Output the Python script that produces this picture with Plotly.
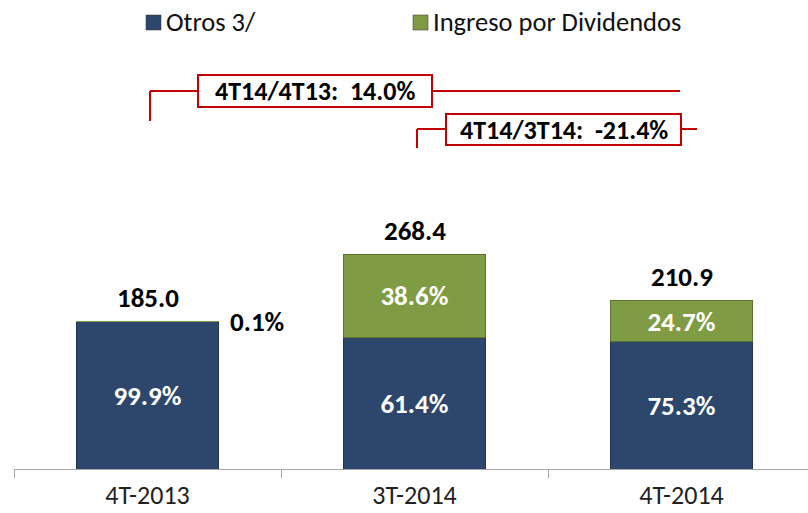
import plotly.graph_objects as go

# Quarterly income breakdown (millions)
categories = ["4T-2013", "3T-2014", "4T-2014"]
otros = [184.8, 164.8, 158.8]
dividendos = [0.2, 103.6, 52.1]
series_names = ["Otros 3/", "Ingreso por Dividendos"]

totals = [round(a + b, 1) for a, b in zip(otros, dividendos)]
share_otros = [a / t * 100 for a, t in zip(otros, totals)]
share_div = [b / t * 100 for b, t in zip(dividendos, totals)]

growth_yoy = (totals[2] / totals[0] - 1) * 100
growth_qoq = (totals[2] / totals[1] - 1) * 100

NAVY = "#2C476B"
GREEN = "#7F9B43"
RED = "#C00000"
FONT = "Carlito, Liberation Sans Narrow, DejaVu Sans Condensed, sans-serif"
BIG = 27

W, H = 808, 513
ML, MR, MT, MB = 14, 0, 0, 44
PW = W - ML - MR
PH = H - MT - MB
CAT_PX = 267.0
Y_MAX = PH / 0.8


def px_x(x):
    return (x - ML) / PW


def px_y(y):
    return (H - MB - y) / PH


fig = go.Figure()

fig.add_trace(go.Bar(
    x=categories, y=otros, name=series_names[0],
    marker=dict(color=NAVY, line=dict(color="#1F3550", width=1)),
    text=[f"{s:.1f}%" for s in share_otros],
    textposition="inside", insidetextanchor="middle", textangle=0,
    constraintext="none",
    insidetextfont=dict(family=FONT, size=BIG, color="white", weight="bold"),
    width=0.532,
))

fig.add_trace(go.Bar(
    x=categories, y=dividendos, name=series_names[1],
    marker=dict(color=GREEN,
                line=dict(color="#5E7530", width=[0 if s < 1 else 1 for s in share_div])),
    text=["" if s < 1 else f"{s:.1f}%" for s in share_div],
    textposition="inside", insidetextanchor="middle", textangle=0,
    constraintext="none",
    insidetextfont=dict(family=FONT, size=BIG, color="white", weight="bold"),
    width=0.532,
))

annotations = []
# Totals above each bar
for c, t in zip(categories, totals):
    annotations.append(dict(
        x=c, y=t, xref="x", yref="y", text=f"<b>{t:.1f}</b>",
        showarrow=False, yanchor="middle", yshift=24,
        font=dict(family=FONT, size=BIG, color="black"),
    ))

# Small dividend share shown beside the first bar
for i, s in enumerate(share_div):
    if s < 1:
        annotations.append(dict(
            x=categories[i], y=totals[i], xref="x", yref="y",
            text=f"<b>{s:.1f}%</b>", showarrow=False,
            xshift=110, yanchor="middle",
            font=dict(family=FONT, size=BIG, color="black"),
        ))

shapes = []

# Legend (drawn manually)
legend_items = [(146, NAVY, series_names[0]), (413, GREEN, series_names[1])]
for x0, col, name in legend_items:
    shapes.append(dict(
        type="rect", xref="paper", yref="paper",
        x0=px_x(x0), x1=px_x(x0 + 15), y0=px_y(30), y1=px_y(15),
        fillcolor=col, line=dict(color="#333333", width=0.5),
    ))
    annotations.append(dict(
        x=px_x(x0 + 18), y=px_y(22), xref="paper", yref="paper",
        text=name, showarrow=False, xanchor="left", yanchor="middle",
        font=dict(family=FONT, size=26.5, color="#111111"),
    ))

# Growth callouts
callouts = [
    # (text, left vertical x, vertical bottom y, line y, box x0, box x1, box y0, box y1, right end x)
    (f"<b>4T14/4T13:&nbsp; {growth_yoy:.1f}%</b>", 150, 121, 91, 198, 432, 75, 107, 680),
    (f"<b>4T14/3T14:&nbsp; {growth_qoq:.1f}%</b>", 417, 148, 129, 446, 681, 114, 145, 697),
]
for text, vx, vy, ly, bx0, bx1, by0, by1, rx in callouts:
    line = dict(color=RED, width=2)
    shapes.append(dict(type="line", xref="paper", yref="paper",
                       x0=px_x(vx), x1=px_x(vx), y0=px_y(vy), y1=px_y(ly), line=line))
    shapes.append(dict(type="line", xref="paper", yref="paper",
                       x0=px_x(vx), x1=px_x(bx0), y0=px_y(ly), y1=px_y(ly), line=line))
    shapes.append(dict(type="line", xref="paper", yref="paper",
                       x0=px_x(bx1), x1=px_x(rx), y0=px_y(ly), y1=px_y(ly), line=line))
    shapes.append(dict(type="rect", xref="paper", yref="paper",
                       x0=px_x(bx0), x1=px_x(bx1), y0=px_y(by1), y1=px_y(by0),
                       fillcolor="white", line=line))
    annotations.append(dict(
        x=px_x((bx0 + bx1) / 2), y=px_y((by0 + by1) / 2), xref="paper", yref="paper",
        text=text, showarrow=False, xanchor="center", yanchor="middle",
        font=dict(family=FONT, size=BIG - 1, color="black"),
    ))

fig.update_layout(
    width=W, height=H,
    margin=dict(l=ML, r=MR, t=MT, b=MB),
    barmode="stack",
    showlegend=False,
    plot_bgcolor="white", paper_bgcolor="white",
    font=dict(family=FONT),
    annotations=annotations,
    shapes=shapes,
)

fig.update_xaxes(
    type="category",
    range=[-0.5, -0.5 + PW / CAT_PX],
    showline=True, linecolor="#A6A6A6", linewidth=1,
    ticks="outside", tickson="boundaries", ticklen=8, tickcolor="#A6A6A6",
    tickfont=dict(family=FONT, size=26, color="#222222"),
    ticklabelstandoff=3, automargin=False,
    showgrid=False, zeroline=False,
)
fig.update_yaxes(
    range=[0, Y_MAX], visible=False, showgrid=False, zeroline=False,
)

fig.write_html("out.html")
